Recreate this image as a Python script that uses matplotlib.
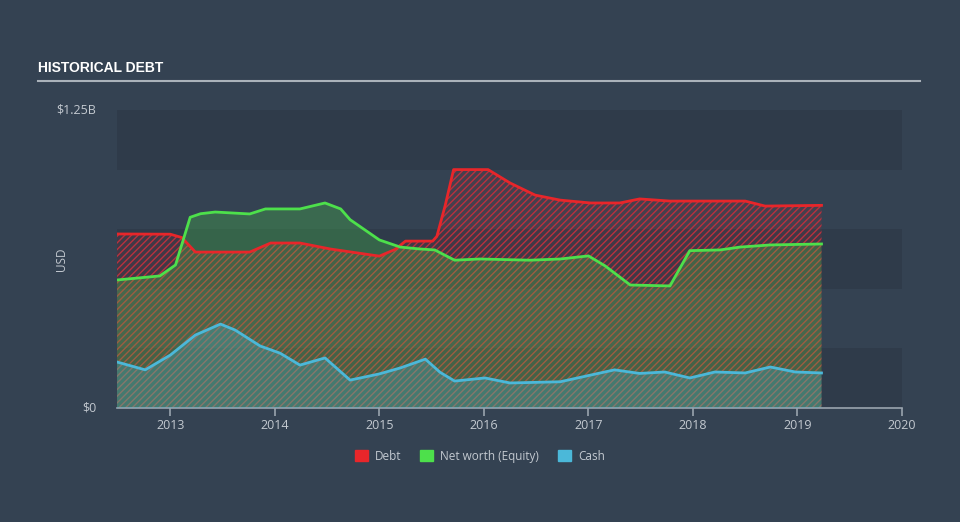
import matplotlib
matplotlib.use("Agg")
import matplotlib.pyplot as plt
import numpy as np

# readings (year fraction, values in $B)
debt_dates = [2012.49, 2013.00, 2013.11, 2013.24, 2013.76, 2013.96, 2014.24, 2014.53,
              2015.00, 2015.15, 2015.25, 2015.51, 2015.55, 2015.63, 2015.71, 2016.04,
              2016.25, 2016.49, 2016.73, 2017.02, 2017.30, 2017.49, 2017.78, 2018.50,
              2018.69, 2019.23]
debt = [0.73, 0.729, 0.715, 0.654, 0.654, 0.692, 0.692, 0.667,
        0.637, 0.665, 0.70, 0.70, 0.72, 0.85, 1.0, 1.0,
        0.944, 0.893, 0.872, 0.86, 0.86, 0.877, 0.868, 0.868,
        0.847, 0.85]

equity_dates = [2012.49, 2012.90, 2013.05, 2013.19, 2013.29, 2013.43, 2013.76, 2013.91,
                2014.24, 2014.48, 2014.63, 2014.72, 2015.00, 2015.20, 2015.39, 2015.53,
                2015.72, 2015.96, 2016.44, 2016.73, 2017.00, 2017.16, 2017.40, 2017.78,
                2017.97, 2018.26, 2018.45, 2018.74, 2019.23]
equity = [0.537, 0.554, 0.60, 0.80, 0.815, 0.822, 0.814, 0.835,
          0.835, 0.86, 0.835, 0.79, 0.705, 0.675, 0.667, 0.663,
          0.62, 0.625, 0.62, 0.625, 0.638, 0.596, 0.516, 0.512,
          0.66, 0.663, 0.675, 0.684, 0.688]

cash_dates = [2012.49, 2012.76, 2013.00, 2013.24, 2013.48, 2013.62, 2013.86, 2014.05,
              2014.24, 2014.48, 2014.72, 2015.00, 2015.20, 2015.44, 2015.58, 2015.72,
              2016.01, 2016.25, 2016.73, 2017.02, 2017.25, 2017.49, 2017.73, 2017.97,
              2018.21, 2018.50, 2018.74, 2018.98, 2019.23]
cash = [0.193, 0.16, 0.222, 0.306, 0.352, 0.327, 0.26, 0.23,
        0.18, 0.21, 0.117, 0.143, 0.168, 0.205, 0.15, 0.113,
        0.126, 0.105, 0.11, 0.138, 0.16, 0.145, 0.151, 0.126,
        0.151, 0.147, 0.172, 0.151, 0.147]

year_ticks = [2013, 2014, 2015, 2016, 2017, 2018, 2019, 2020]
series_names = ["Debt", "Net worth (Equity)", "Cash"]

bg = "#344252"
band = "#2f3b4a"
red = "#e8262a"
green = "#4de04b"
blue = "#4bb8d9"
txt = "#c3c9d0"

plt.rcParams['hatch.linewidth'] = 1.0
plt.rcParams['font.family'] = ['Open Sans', 'DejaVu Sans']

fig = plt.figure(figsize=(9.6, 5.22), dpi=100, facecolor=bg)
ax = fig.add_axes([117 / 960, 114 / 522, 785 / 960, 298 / 522])
ax.set_facecolor(bg)

# alternating background bands
for lo in [0.0, 0.5, 1.0]:
    ax.axhspan(lo, lo + 0.25, color=band, lw=0, zorder=0)

ax.fill_between(debt_dates, 0, debt, facecolor=(0.91, 0.15, 0.16, 0.10), edgecolor="#b8323f",
                hatch="/////", linewidth=0, zorder=1)
ax.fill_between(equity_dates, 0, equity, facecolor=(0.30, 0.88, 0.29, 0.25), linewidth=0, zorder=2)
ax.fill_between(cash_dates, 0, cash, facecolor=(0.29, 0.72, 0.85, 0.28), linewidth=0, zorder=3)

ax.plot(debt_dates, debt, color=red, lw=2, zorder=5, solid_joinstyle="round")
ax.plot(equity_dates, equity, color=green, lw=2, zorder=5, solid_joinstyle="round")
ax.plot(cash_dates, cash, color=blue, lw=2, zorder=5, solid_joinstyle="round")

ax.set_xlim(2012.49, 2020)
ax.set_ylim(0, 1.25)
for s in ["top", "right", "left"]:
    ax.spines[s].set_visible(False)
ax.spines["bottom"].set_color("#9aa4ae")
ax.spines["bottom"].set_linewidth(1.2)
ax.set_xticks(year_ticks)
ax.set_xticklabels([str(y) for y in year_ticks])
ax.tick_params(axis="x", colors="#9aa4ae", length=6, width=1.2, labelcolor=txt,
               labelsize=9, pad=2)
ax.set_yticks([0, 1.25])
ax.set_yticklabels(["$0", "$1.25B"])
ax.tick_params(axis="y", length=0, labelcolor=txt, labelsize=9, pad=15)
for lab in ax.get_yticklabels():
    lab.set_verticalalignment("center")
fig.text(62 / 960, 1 - 259 / 522, "USD", color=txt, fontsize=8.5, rotation=90,
         ha="center", va="center")

# title and rule
fig.text(38 / 960, 1 - 68 / 522, "HISTORICAL DEBT", color="white", fontsize=10,
         fontweight="bold", family=['Liberation Sans Narrow', 'Liberation Sans', 'DejaVu Sans'],
         va="center", ha="left")
fig.add_artist(plt.Line2D([38 / 960, 920 / 960], [1 - 81 / 522, 1 - 81 / 522],
                          color="#aab2ba", lw=1.5))

# legend
handles = [plt.Rectangle((0, 0), 1, 1, color=c) for c in [red, green, blue]]
leg = fig.legend(handles, series_names, loc="center", bbox_to_anchor=(0.5, 1 - 456 / 522),
                 ncol=3, frameon=False, fontsize=8.5, handlelength=1.1, handleheight=1.1,
                 columnspacing=1.6, handletextpad=0.6)
for t in leg.get_texts():
    t.set_color(txt)

fig.savefig("out.png", dpi=100, facecolor=bg)
